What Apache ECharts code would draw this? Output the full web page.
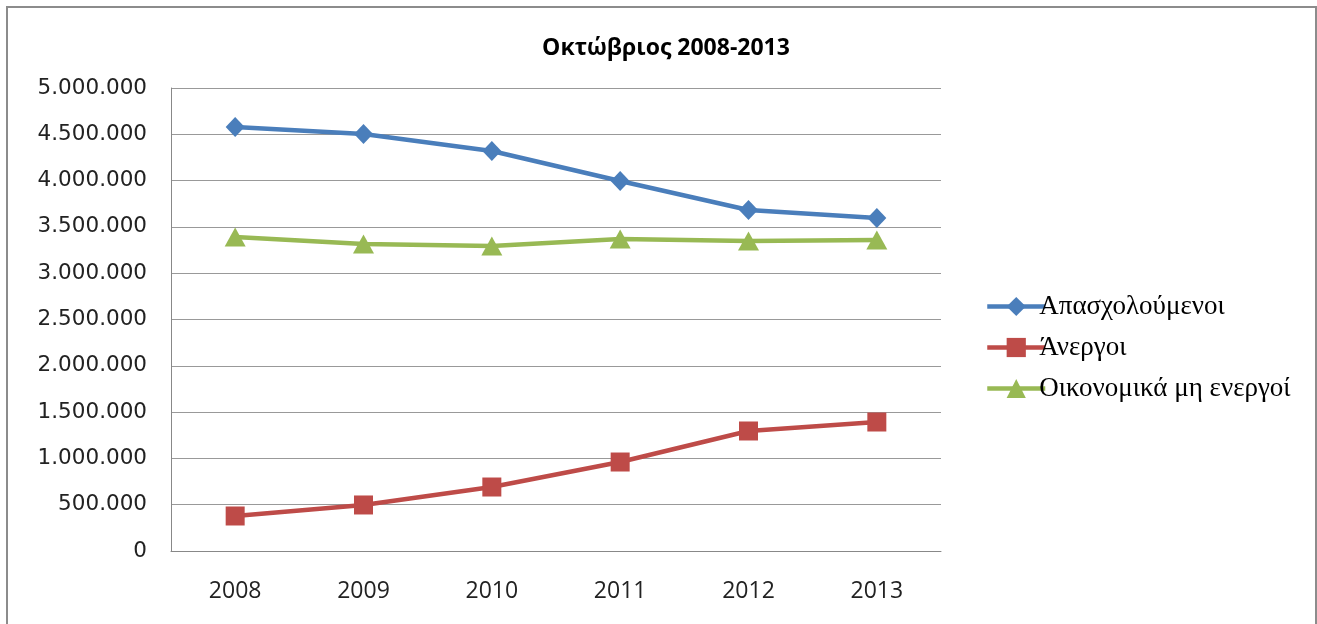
<!DOCTYPE html>
<html><head><meta charset="utf-8">
<script src="https://cdn.jsdelivr.net/npm/echarts@6/dist/echarts.min.js"></script>
<style>html,body{margin:0;padding:0;background:#fff}#c{width:1317px;height:624px}</style>
</head><body><div id="c"></div>
<script>
const categories = ['2008','2009','2010','2011','2012','2013'];
const employed = [4579000, 4503000, 4320000, 3996000, 3683000, 3596000];
const unemployed = [378000, 497000, 691000, 961000, 1296000, 1393000];
const inactive = [3391000, 3315000, 3294000, 3369000, 3348000, 3359000];
const seriesNames = ['Απασχολούμενοι', 'Άνεργοι', 'Οικονομικά μη ενεργοί'];
const titleText = 'Οκτώβριος 2008-2013';

function fmt(v){ return String(v).replace(/\B(?=(\d{3})+(?!\d))/g, '.'); }

const chart = echarts.init(document.getElementById('c'), null, {renderer:'canvas'});
chart.setOption({
  animation:false,
  backgroundColor:'#fff',
  graphic:[{type:'rect', shape:{x:7,y:7,width:1309,height:630}, style:{fill:'none', stroke:'#8c8c8c', lineWidth:2}, silent:true}],
  title:{text:titleText, left:661, top:29, textAlign:'center',
    textStyle:{fontFamily:'Open Sans', fontWeight:'bold', fontSize:23, color:'#000', lineHeight:28}},
  legend:{orient:'vertical', left:980, top:288, itemGap:14, itemWidth:58, itemHeight:24,
    lineStyle:{width:4.5},
    textStyle:{fontFamily:'Liberation Serif', fontSize:27, lineHeight:27, color:'#000', padding:[0,0,0,-11]},
    data:seriesNames},
  grid:{left:171, right:376, top:88, bottom:73},
  xAxis:{type:'category', data:categories, boundaryGap:true,
    axisLine:{lineStyle:{color:'#888', width:1}}, axisTick:{show:false},
    axisLabel:{fontFamily:'Open Sans', fontSize:23, color:'#222', margin:29}},
  yAxis:{type:'value', min:0, max:5000000, interval:500000,
    axisLine:{show:true, lineStyle:{color:'#888'}}, axisTick:{show:false},
    splitLine:{lineStyle:{color:'#999', width:1}},
    axisLabel:{fontFamily:'DejaVu Sans', fontSize:21.5, color:'#222', margin:24, formatter:fmt}},
  series:[
    {name:seriesNames[0], type:'line', data:employed, symbol:'diamond', symbolSize:[19,20],
      lineStyle:{color:'#4a7ebb', width:4.5}, itemStyle:{color:'#4a7ebb'}},
    {name:seriesNames[1], type:'line', data:unemployed, symbol:'rect', symbolSize:19,
      lineStyle:{color:'#be4b48', width:4.5}, itemStyle:{color:'#be4b48'}},
    {name:seriesNames[2], type:'line', data:inactive, symbol:'triangle', symbolSize:[21,19],
      lineStyle:{color:'#98b954', width:4.5}, itemStyle:{color:'#98b954'}}
  ]
});
</script></body></html>
